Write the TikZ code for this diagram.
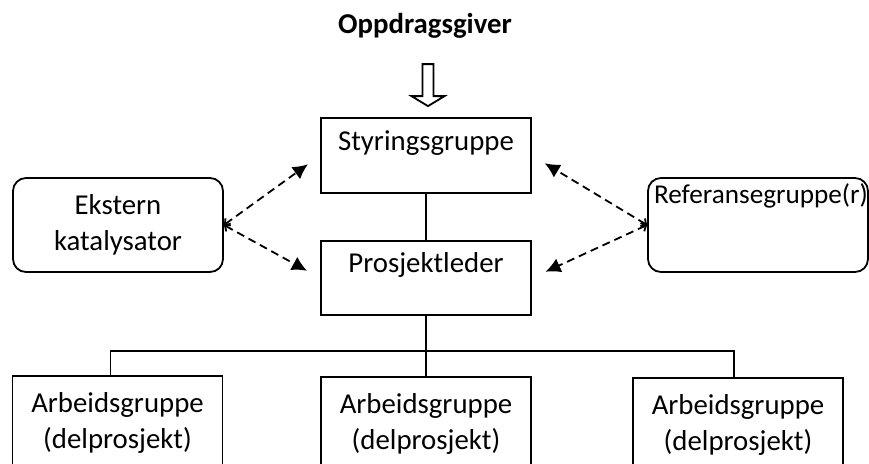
\documentclass[tikz,border=0pt]{standalone}
\usepackage{fontspec}
\setmainfont{Carlito}
\usepackage{tikz}
\usetikzlibrary{arrows.meta,calc}

\begin{document}
\begin{tikzpicture}[x=0.5pt,y=-0.5pt,line width=0.9pt]
\fontsize{14.4pt}{18pt}\selectfont
\tikzstyle{box}=[draw,rectangle,inner sep=0pt,minimum width=105pt,align=center]
\tikzstyle{toptext}=[box,text depth=21.5pt]
\tikzstyle{roundbox}=[box,rounded corners=6.5pt,minimum height=47pt]
\tikzstyle{arrow}=[dash pattern=on 4pt off 2.5pt,{Straight Barb[length=2pt,width=4.5pt]}-{Latex[length=7.5pt,width=7.5pt]},shorten >=7.5pt]
	\useasboundingbox (0,0) rectangle (869,463);
	\clip (0,0) rectangle (869,463);

	\node[font=\bfseries] (giver) at (425,26) {Oppdragsgiver};

	\node[toptext,text height=16pt] (sty) at (426,155.5) {Styringsgruppe};
	\node[toptext,text height=15.5pt] (pl) at (426,278) {Prosjektleder};

	\node[roundbox] (ext) at (118,225) {Ekstern\\katalysator};
	\node[roundbox,minimum width=110pt,text height=12.5pt,text depth=34.5pt,font=\fontsize{13.6pt}{18pt}\selectfont] (ref) at (758,225) {\hspace{3pt}Referansegruppe(r)};

	\node[box,minimum height=47pt] (ab1) at (117.5,423) {Arbeidsgruppe\\(delprosjekt)};
	\node[box,minimum height=47pt] (ab2) at (426,424) {Arbeidsgruppe\\(delprosjekt)};
	\node[box,minimum height=47pt] (ab3) at (738,425) {Arbeidsgruppe\\(delprosjekt)};

	% hollow arrow from the client
	\coordinate (tip) at ($(sty.north)+(2,-11)$);
	\draw (tip) -- ++(16.5,-10) -- ++(-11,0) -- ++(0,-32) -- ++(-11,0) -- ++(0,32) -- ++(-11,0) -- cycle;

	\draw (sty) -- (pl);

	\draw[arrow] (ext.east) -- (sty.west);
	\draw[arrow] (ext.east) -- (pl.west);
	\draw[arrow] (ref.west) -- (sty.east);
	\draw[arrow] (ref.west) -- (pl.east);

	% work groups
	\coordinate (bus) at ($(pl.south)+(0,35)$);
	\draw (pl.south) -- (ab2.north);
	\draw ([xshift=-3.5pt]ab1.north) |- (bus) -| ([xshift=-2pt]ab3.north);
\end{tikzpicture}
\end{document}
